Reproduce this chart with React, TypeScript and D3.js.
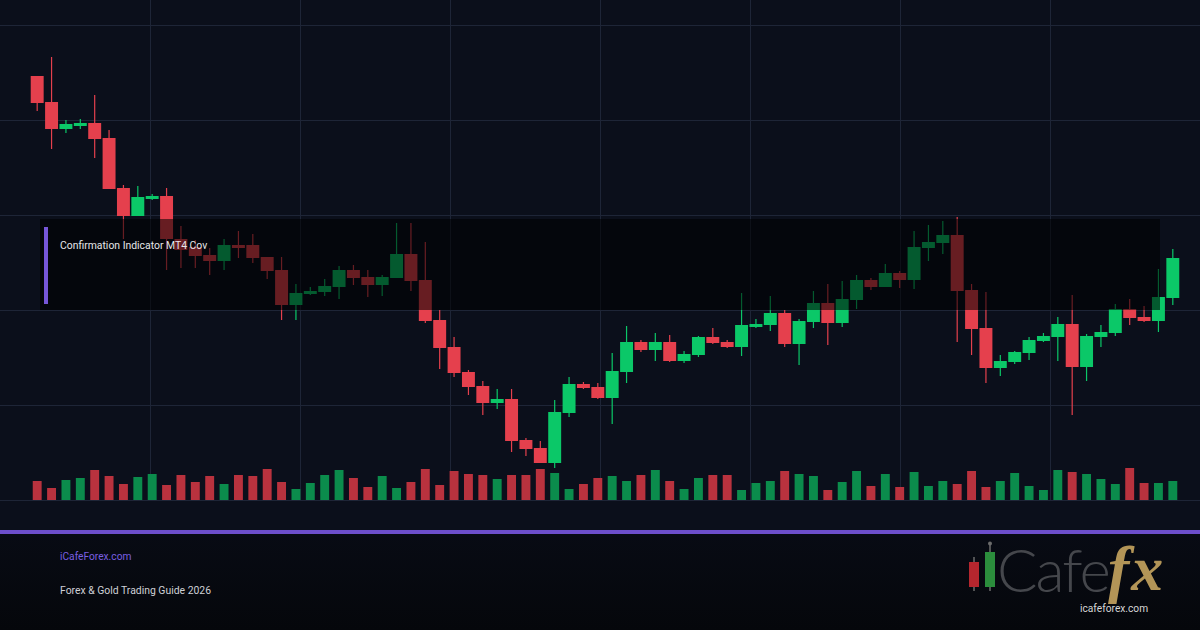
import React, { useEffect, useRef } from 'react';
import * as d3 from 'd3';

const W = 1200;
const H = 630;

// price series (index points), one entry per candle
const opens = [424, 398, 371, 374, 377, 362, 312, 284, 301, 304, 261, 253, 245, 239, 255, 255, 243, 230, 195, 206,
  208, 213, 230, 223, 215, 222, 246, 220, 180, 153, 128, 114, 97, 101, 60, 52, 37, 87, 116, 113,
  102, 128, 158, 150, 158, 139, 145, 163, 158, 153, 173, 175, 187, 156, 178, 197, 177, 200, 220, 213,
  227, 220, 252, 257, 265, 210, 172, 132, 138, 147, 159, 163, 176, 133, 163, 167, 191, 183, 179, 202];
const highs = [424, 443, 380, 381, 405, 370, 315, 314, 306, 312, 274, 260, 252, 261, 269, 266, 243, 243, 216, 213,
  221, 234, 235, 230, 225, 277, 277, 258, 190, 163, 130, 119, 111, 111, 62, 59, 100, 123, 118, 117,
  147, 174, 160, 167, 165, 149, 164, 172, 160, 207, 181, 204, 190, 181, 209, 216, 219, 225, 222, 236,
  229, 269, 275, 279, 283, 216, 208, 145, 149, 163, 167, 183, 205, 166, 175, 196, 201, 194, 231, 251];
const lows = [389, 351, 367, 371, 342, 311, 261, 284, 300, 230, 232, 232, 225, 230, 242, 237, 221, 180, 180, 205,
  204, 201, 215, 203, 204, 222, 209, 177, 131, 123, 105, 85, 91, 48, 44, 37, 32, 83, 111, 101,
  76, 117, 148, 139, 138, 137, 143, 156, 152, 144, 172, 169, 153, 135, 172, 155, 173, 191, 210, 213,
  212, 211, 239, 246, 158, 145, 117, 124, 136, 140, 158, 139, 85, 119, 153, 164, 175, 178, 168, 195];
const closes = [397, 371, 376, 377, 361, 311, 284, 303, 304, 261, 250, 244, 239, 255, 252, 242, 229, 195, 207, 209,
  214, 230, 222, 215, 223, 246, 219, 179, 152, 127, 113, 97, 101, 59, 51, 37, 88, 116, 112, 102,
  129, 158, 150, 158, 139, 146, 163, 157, 153, 175, 176, 187, 156, 179, 197, 177, 201, 220, 213, 227,
  220, 253, 258, 265, 209, 171, 132, 139, 148, 160, 164, 176, 133, 164, 168, 191, 182, 179, 203, 242];
const volumes = [19, 12, 20, 22, 30, 24, 16, 23, 26, 15, 25, 18, 24, 16, 25, 24, 31, 18, 11, 17,
  25, 30, 22, 13, 24, 12, 18, 31, 15, 29, 26, 25, 21, 25, 25, 31, 27, 11, 16, 22,
  24, 19, 25, 30, 19, 11, 22, 25, 25, 10, 17, 19, 29, 26, 24, 10, 18, 29, 14, 26,
  13, 28, 14, 19, 16, 29, 13, 19, 27, 14, 10, 30, 28, 26, 21, 16, 32, 17, 17, 19];

const overlayLabel = 'Confirmation Indicator MT4 Cov';
const siteLabel = 'iCafeForex.com';
const guideLabel = 'Forex & Gold Trading Guide 2026';
const logoWord = 'Cafe';
const logoFx = 'fx';
const logoUrl = 'icafeforex.com';

const App = () => {
  const svgRef = useRef<SVGSVGElement>(null);

  useEffect(() => {
    document.body.style.margin = '0';
    document.body.style.background = '#0b0f1b';
    const svg = d3.select(svgRef.current);
    svg.selectAll('*').remove();

    const defs = svg.append('defs');
    const grad = defs.append('linearGradient').attr('id', 'footerBg')
      .attr('x1', 0).attr('y1', 0).attr('x2', 0).attr('y2', 1);
    grad.append('stop').attr('offset', '0%').attr('stop-color', '#080b14');
    grad.append('stop').attr('offset', '100%').attr('stop-color', '#05070b');

    svg.append('rect').attr('width', W).attr('height', H).attr('fill', '#0b0f1b');

    const idx = d3.range(opens.length);
    const x = d3.scaleBand<number>().domain(idx).range([30, 1180]);
    const step = x.step();
    const y = d3.scaleLinear().domain([0, 475]).range([500, 25]);
    const vy = d3.scaleLinear().domain([0, 40]).range([500, 460]);
    const gx = d3.scaleLinear().domain([0, 8]).range([0, W]);

    // grid
    const grid = svg.append('g').attr('stroke', '#1e2537').attr('stroke-width', 1);
    grid.selectAll('line.h')
      .data(d3.range(0, 476, 95))
      .join('line')
      .attr('class', 'h')
      .attr('x1', 0).attr('x2', W)
      .attr('y1', (d) => Math.round(y(d)) + 0.5)
      .attr('y2', (d) => Math.round(y(d)) + 0.5);
    grid.selectAll('line.v')
      .data(d3.range(1, 8))
      .join('line')
      .attr('class', 'v')
      .attr('x1', (d) => gx(d) + 0.5).attr('x2', (d) => gx(d) + 0.5)
      .attr('y1', 0).attr('y2', y(0));

    const up = '#0bc868';
    const down = '#e5404d';

    // volume
    const vw = step * 0.62;
    svg.append('g')
      .selectAll('rect')
      .data(idx)
      .join('rect')
      .attr('x', (i) => (x(i) ?? 0) + (step - vw) / 2)
      .attr('y', (i) => vy(volumes[i]))
      .attr('width', vw)
      .attr('height', (i) => vy(0) - vy(volumes[i]))
      .attr('fill', (i) => (closes[i] >= opens[i] ? '#0b8c4c' : '#b9323e'));

    // candles
    const bw = step * 0.9;
    const candles = svg.append('g')
      .selectAll('g')
      .data(idx)
      .join('g')
      .attr('fill', (i) => (closes[i] >= opens[i] ? up : down))
      .attr('stroke', (i) => (closes[i] >= opens[i] ? up : down));
    candles.append('line')
      .attr('x1', (i) => (x(i) ?? 0) + step / 2)
      .attr('x2', (i) => (x(i) ?? 0) + step / 2)
      .attr('y1', (i) => y(highs[i]))
      .attr('y2', (i) => y(lows[i]))
      .attr('stroke-width', 1.2);
    candles.append('rect')
      .attr('stroke', 'none')
      .attr('x', (i) => (x(i) ?? 0) + (step - bw) / 2)
      .attr('y', (i) => y(Math.max(opens[i], closes[i])))
      .attr('width', bw)
      .attr('height', (i) => Math.max(2, Math.abs(y(opens[i]) - y(closes[i]))));

    // indicator label box
    svg.append('rect')
      .attr('x', 40).attr('y', 219).attr('width', 1120).attr('height', 91)
      .attr('fill', '#000').attr('opacity', 0.55);
    svg.append('rect')
      .attr('x', 44).attr('y', 227).attr('width', 4).attr('height', 77)
      .attr('fill', '#7656d8');
    svg.append('text')
      .attr('x', 60).attr('y', 248.5)
      .attr('font-family', 'Roboto, sans-serif').attr('font-size', 10.4)
      .attr('fill', '#e6e6ea')
      .text(overlayLabel);

    // footer
    svg.append('rect').attr('x', 0).attr('y', 534).attr('width', W).attr('height', H - 534)
      .attr('fill', 'url(#footerBg)');
    svg.append('rect').attr('x', 0).attr('y', 530).attr('width', W).attr('height', 4)
      .attr('fill', '#6d4fcc');
    svg.append('text')
      .attr('x', 60).attr('y', 559.5)
      .attr('font-family', 'Roboto, sans-serif').attr('font-size', 10.2)
      .attr('fill', '#7a5fe0')
      .text(siteLabel);
    svg.append('text')
      .attr('x', 60).attr('y', 593.5)
      .attr('font-family', 'Roboto, sans-serif').attr('font-size', 10.4)
      .attr('fill', '#cfd0d6')
      .text(guideLabel);

    // logo
    const logo = svg.append('g');
    logo.append('line').attr('x1', 974).attr('x2', 974).attr('y1', 557).attr('y2', 591)
      .attr('stroke', '#6b6b6b').attr('stroke-width', 1.5);
    logo.append('rect').attr('x', 969).attr('y', 562).attr('width', 10).attr('height', 25)
      .attr('fill', '#b5262e');
    logo.append('line').attr('x1', 990).attr('x2', 990).attr('y1', 543).attr('y2', 591)
      .attr('stroke', '#6b6b6b').attr('stroke-width', 1.5);
    logo.append('circle').attr('cx', 990).attr('cy', 543.5).attr('r', 2).attr('fill', '#6b6b6b');
    logo.append('rect').attr('x', 985).attr('y', 552).attr('width', 10).attr('height', 35)
      .attr('fill', '#2b8d3c');
    logo.append('text')
      .attr('x', 997).attr('y', 592)
      .attr('font-family', 'Lato, sans-serif').attr('font-weight', 300).attr('font-size', 60)
      .attr('letter-spacing', -2)
      .attr('fill', '#45474c')
      .text(logoWord);
    logo.append('text')
      .attr('x', 1108).attr('y', 590)
      .attr('font-family', '"Liberation Serif", serif').attr('font-style', 'italic').attr('font-weight', 700)
      .attr('font-size', 64)
      .attr('letter-spacing', 2)
      .attr('fill', '#b39557')
      .text(logoFx);
    logo.append('text')
      .attr('x', 1080).attr('y', 612)
      .attr('font-family', 'Roboto, sans-serif').attr('font-size', 10.2)
      .attr('fill', '#d6d6d6')
      .text(logoUrl);
  }, []);

  return (
    <svg ref={svgRef} width={W} height={H} style={{ display: 'block' }} />
  );
};

export default App;
